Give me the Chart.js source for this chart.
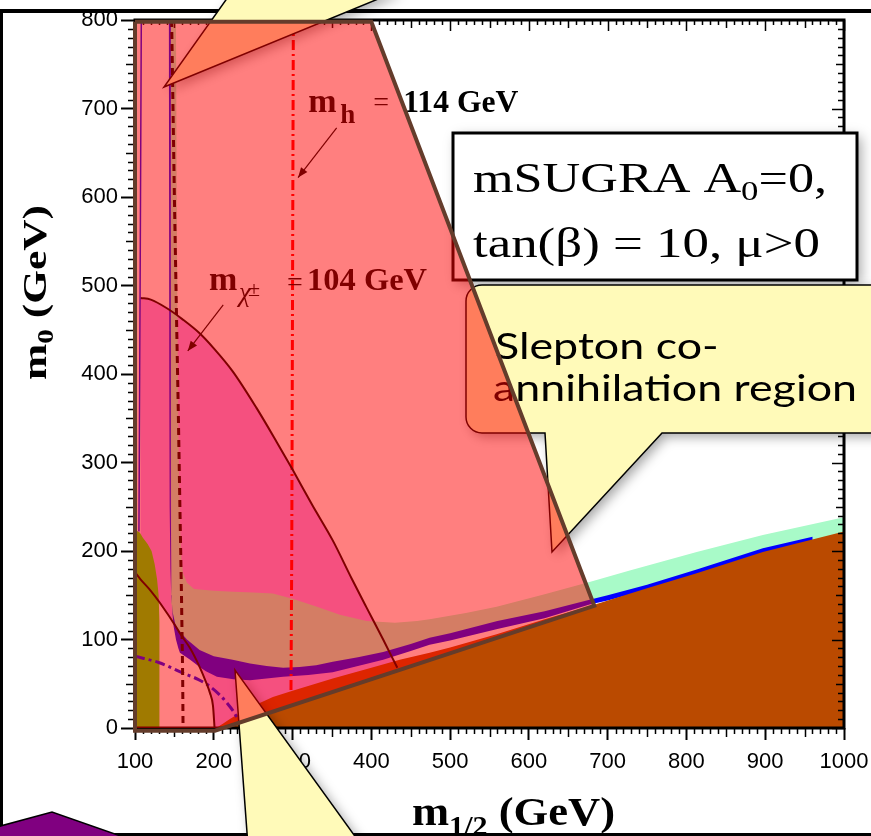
<!DOCTYPE html>
<html>
<head>
<meta charset="utf-8">
<title>mSUGRA m0 – m1/2 plane</title>
<script src="https://cdn.jsdelivr.net/npm/chart.js@4.4.1/dist/chart.umd.min.js"></script>
<style>
  html, body { margin: 0; padding: 0; background: #ffffff; }
  canvas { display: block; }
</style>
</head>
<body>
<canvas id="plane" width="871" height="836"></canvas>
<script>
// Axis tick values (GeV)
const m12Ticks = [100, 200, 300, 400, 500, 600, 700, 800, 900, 1000];
const m0Ticks = [0, 100, 200, 300, 400, 500, 600, 700, 800];

// Region outlines, [m1/2, m0] in GeV
const favouredRegion = [
  [145.5, 800], [152, 800], [153, 600], [154, 450], [155, 350], [156, 280], [157, 240], [158, 210],
  [159, 190], [161, 175], [166, 164], [175, 157], [200, 155], [225, 154], [250, 153], [275, 152],
  [300, 146], [331, 137], [360, 128], [394, 121], [430, 119], [458, 121], [474, 123], [520, 130],
  [559, 137], [620, 151], [677, 165], [728, 178], [813, 199], [897, 218], [1000, 238],
  [1000, 220], [960, 210], [897, 201], [813, 177], [750, 160], [700, 148], [677, 142], [620, 128],
  [560, 116], [500, 103], [474, 98], [450, 91], [415, 81], [383, 75], [351, 69], [320, 65],
  [288, 63], [246, 63], [225, 66], [204, 70], [182, 78], [166, 90], [157, 97], [152, 107],
  [148, 120], [146.5, 140], [146, 200], [145.5, 400]
];
const narrowBand = [
  [143, 800], [143.5, 400], [144, 250], [145, 180], [146, 150], [148, 130], [151, 118], [155, 111],
  [166, 100], [182, 88], [200, 81], [224, 77], [246, 73], [267, 70], [288, 68], [309, 69], [330, 71],
  [351, 75], [383, 80], [415, 86], [450, 95], [474, 102], [500, 107], [560, 121], [620, 132],
  [677, 145], [700, 150], [750, 162], [813, 179], [897, 203], [960, 216],
  [960, 210], [897, 197], [813, 173], [750, 156], [700, 144], [677, 139.5], [620, 124], [560, 112],
  [500, 99], [474, 94], [450, 87], [415, 77], [383, 70], [351, 63], [320, 60], [288, 58], [246, 54],
  [225, 55], [204, 58], [190, 64], [182, 69], [170, 77], [157, 85], [155, 90], [152, 100],
  [149, 115], [147.5, 130], [146.5, 150], [146, 180], [145.5, 250], [145.5, 800]
];
const stauLspRegion = [
  [201, 0], [205, 1], [212, 5], [220, 10], [233, 17], [250, 25], [275, 35], [300, 42], [351, 56],
  [400, 68], [436, 77], [474, 85], [500, 91], [559, 106], [620, 123], [686, 140], [750, 158],
  [813, 175], [897, 199], [1000, 222], [1000, 0]
];
const lavenderRegion = [
  [107, 486], [120, 484], [141, 474], [160, 462], [182, 446], [200, 429], [224, 403], [254, 362],
  [280, 323], [300, 292], [325, 252], [351, 212], [375, 169], [394, 136], [415, 100], [433, 68],
  [440, 0], [201, 0], [199, 25], [195, 40], [190, 52], [182, 69], [170, 90], [157, 107],
  [153, 113], [132, 141], [120, 155], [107, 168]
];
const lowM12Region = [
  [100, 0], [131, 0], [131, 120], [130, 150], [128, 168], [125, 185], [121, 200], [116, 208],
  [110, 215], [106, 221], [102, 223], [100, 221]
];

// Contours
const contourUpper = [
  [107, 486], [120, 484], [141, 474], [160, 462], [182, 446], [200, 429], [224, 403], [254, 362],
  [280, 323], [300, 292], [325, 252], [351, 212], [375, 169], [394, 136], [415, 100], [433, 68]
];
const contourLower = [
  [100, 176], [107, 168], [120, 155], [132, 141], [153, 113], [157, 107], [170, 90], [182, 69],
  [190, 52], [195, 40], [199, 25], [201, 0]
];
const charginoLimit = [
  [146.5, 800], [150, 600], [153, 450], [155, 356], [157, 250], [159, 150], [160.5, 60], [161, 0]
];
const higgsLimit = [[301, 800], [300, 500], [299, 200], [298, 43]];
const blueDashDot = [
  [100, 81], [130, 74], [161, 62], [180, 55], [195, 47], [208, 37], [217, 28], [224, 20], [230, 11]
];
const leftEdgeLine = [[108, 800], [107, 600], [106, 400], [105, 222]];

// Highlighted excluded area
const coverPolygon = [[100, 798], [400, 798], [683, 138], [201.5, -3], [100, -3], [100, 798]];

const pts = arr => arr.map(([x, y]) => ({ x, y }));
const SERIF = '"Liberation Serif", "Times New Roman", serif';
const SANS = 'Lato, "Open Sans", sans-serif';

const datasets = [
  { data: pts(coverPolygon), fill: 'shape', backgroundColor: 'rgba(255,0,0,0.5)',
    borderColor: '#643c2b', borderWidth: 4, borderJoinStyle: 'miter', clip: false },
  { data: pts(leftEdgeLine), borderColor: '#0000ff', borderWidth: 1.5 },
  { data: pts(contourUpper), borderColor: '#000000', borderWidth: 2, cubicInterpolationMode: 'monotone' },
  { data: pts(contourLower), borderColor: '#000000', borderWidth: 2, cubicInterpolationMode: 'monotone' },
  { data: pts(charginoLimit), borderColor: '#000000', borderWidth: 3, borderDash: [7, 5] },
  { data: pts(higgsLimit), borderColor: '#ff0000', borderWidth: 3, borderDash: [10, 4, 2, 4] },
  { data: pts(blueDashDot), borderColor: '#0000ff', borderWidth: 3, borderDash: [10, 4, 3, 4],
    cubicInterpolationMode: 'monotone' },
  { data: pts(stauLspRegion), fill: 'shape', backgroundColor: 'rgb(186,74,0)', borderWidth: 0 },
  { data: pts(narrowBand), fill: 'shape', backgroundColor: '#0000ff', borderWidth: 0 },
  { data: pts(lowM12Region), fill: 'shape', backgroundColor: 'rgb(65,245,0)', borderWidth: 0 },
  { data: pts(favouredRegion), fill: 'shape', backgroundColor: 'rgb(168,250,200)', borderWidth: 0 },
  { data: pts(lavenderRegion), fill: 'shape', backgroundColor: 'rgb(235,160,255)', borderWidth: 0 }
];

// Text helpers: runs of differently styled text, optionally squeezed/stretched to a width
function runsWidth(ctx, runs) {
  let w = 0;
  for (const r of runs) { ctx.font = r.font; w += ctx.measureText(r.t).width; }
  return w;
}
function drawRuns(ctx, runs, x, y, targetW, fixedScale) {
  const w = runsWidth(ctx, runs);
  const s = fixedScale || (targetW ? targetW / w : 1);
  ctx.save();
  ctx.translate(x, y);
  ctx.scale(s, 1);
  let cx = 0;
  for (const r of runs) {
    ctx.font = r.font;
    ctx.fillText(r.t, cx, r.dy || 0);
    cx += ctx.measureText(r.t).width;
  }
  ctx.restore();
  return s;
}
function arrow(ctx, x0, y0, x1, y1) {
  ctx.beginPath(); ctx.moveTo(x0, y0); ctx.lineTo(x1, y1); ctx.stroke();
  const a = Math.atan2(y1 - y0, x1 - x0), L = 10, W = 4;
  ctx.beginPath();
  ctx.moveTo(x1, y1);
  ctx.lineTo(x1 - L * Math.cos(a) + W * Math.sin(a), y1 - L * Math.sin(a) - W * Math.cos(a));
  ctx.lineTo(x1 - L * Math.cos(a) - W * Math.sin(a), y1 - L * Math.sin(a) + W * Math.cos(a));
  ctx.closePath(); ctx.fill();
}

function drawFrame(chart) {
  const { ctx, chartArea: a, scales: { x, y } } = chart;
  ctx.save();
  ctx.strokeStyle = '#000';
  ctx.lineWidth = 1.5;
  ctx.beginPath();
  for (let v = 100; v <= 1000; v += 10) {
    const px = Math.round(x.getPixelForValue(v)) + 0.5;
    const major = v % 100 === 0, mid = v % 50 === 0;
    if (!major) { ctx.moveTo(px, a.bottom); ctx.lineTo(px, a.bottom + (mid ? 9 : 6)); }
    ctx.moveTo(px, a.top); ctx.lineTo(px, a.top + (major ? 11 : (mid ? 8 : 5)));
  }
  for (let v = 0; v <= 800; v += 10) {
    const py = Math.round(y.getPixelForValue(v)) + 0.5;
    const major = v % 100 === 0, mid = v % 50 === 0;
    if (!major) { ctx.moveTo(a.left, py); ctx.lineTo(a.left - (mid ? 9 : 7), py); }
    ctx.moveTo(a.right, py); ctx.lineTo(a.right - (major ? 12 : (mid ? 8 : 6)), py);
  }
  ctx.stroke();
  ctx.lineWidth = 3;
  ctx.strokeRect(a.left, a.top, a.right - a.left, a.bottom - a.top);
  ctx.restore();
}

function drawPlotText(chart) {
  const { ctx, scales: { x, y } } = chart;
  const P = (m, m0) => [x.getPixelForValue(m), y.getPixelForValue(m0)];
  ctx.save();
  ctx.fillStyle = '#000';
  ctx.strokeStyle = '#000';
  ctx.lineWidth = 1.2;

  // light Higgs mass contour label
  let [hx, hy] = P(320, 696);
  ctx.font = 'bold 34px ' + SERIF; ctx.fillText('m', hx, hy);
  ctx.font = 'bold 27px ' + SERIF; ctx.fillText('h', hx + 32, hy + 11);
  ctx.font = '28px ' + SERIF; ctx.fillText('=', hx + 65, hy - 1);
  drawRuns(ctx, [{ t: '114 GeV', font: 'bold 31px ' + SERIF }], hx + 95, hy, 115);
  let [a0x, a0y] = P(356, 678), [a1x, a1y] = P(307, 622);
  arrow(ctx, a0x, a0y, a1x, a1y);

  // chargino mass contour label
  let [cx, cy] = P(194, 495);
  ctx.font = 'bold 34px ' + SERIF; ctx.fillText('m', cx, cy);
  ctx.font = 'italic 27px ' + SERIF; ctx.fillText('χ', cx + 30, cy + 11);
  ctx.font = '22px ' + SERIF; ctx.fillText('±', cx + 39, cy + 6);
  ctx.font = '28px ' + SERIF; ctx.fillText('=', cx + 78, cy + 1);
  drawRuns(ctx, [{ t: '104 GeV', font: 'bold 31px ' + SERIF }], cx + 98, cy, 120);
  [a0x, a0y] = P(212, 478); [a1x, a1y] = P(167, 426);
  arrow(ctx, a0x, a0y, a1x, a1y);

  // axis titles
  drawRuns(ctx, [
    { t: 'm', font: 'bold 40px ' + SERIF },
    { t: '1/2', font: 'bold 27px ' + SERIF, dy: 10 },
    { t: ' (GeV)', font: 'bold 40px ' + SERIF }
  ], 412, 825, 203);
  ctx.save();
  ctx.translate(46, 380);
  ctx.rotate(-Math.PI / 2);
  drawRuns(ctx, [
    { t: 'm', font: 'bold 34px ' + SERIF },
    { t: '0', font: 'bold 23px ' + SERIF, dy: 7 },
    { t: ' (GeV)', font: 'bold 34px ' + SERIF }
  ], 0, 0, 175);
  ctx.restore();
  ctx.restore();
}

function drawSlide(chart) {
  const ctx = chart.ctx;
  ctx.save();
  // slide frame lines
  ctx.fillStyle = '#000';
  ctx.fillRect(0, 9, 871, 4);
  ctx.fillRect(0, 9, 3, 827);
  ctx.fillRect(0, 833, 871, 3);

  // purple shape at the lower left
  ctx.beginPath();
  ctx.moveTo(-5, 827.5); ctx.lineTo(52, 812); ctx.lineTo(132, 840); ctx.lineTo(-5, 840); ctx.closePath();
  ctx.fillStyle = '#800080'; ctx.fill();
  ctx.strokeStyle = '#000'; ctx.lineWidth = 1.5; ctx.stroke();

  const shadow = on => {
    ctx.shadowColor = on ? 'rgba(0,0,0,0.35)' : 'transparent';
    ctx.shadowBlur = on ? 12 : 0; ctx.shadowOffsetX = on ? 4 : 0; ctx.shadowOffsetY = on ? 4 : 0;
  };
  const YELLOW = 'rgb(255,250,185)';

  // parameter box
  shadow(true);
  ctx.fillStyle = '#fff'; ctx.fillRect(453, 133, 404, 147);
  shadow(false);
  ctx.strokeStyle = '#000'; ctx.lineWidth = 3; ctx.strokeRect(453, 133, 404, 147);
  ctx.fillStyle = '#000';
  drawRuns(ctx, [
    { t: 'mSUGRA A', font: '42px ' + SERIF },
    { t: '0', font: '28px ' + SERIF, dy: 8 },
    { t: '=0,', font: '42px ' + SERIF }
  ], 473, 192, 354);
  drawRuns(ctx, [{ t: 'tan(β) = 10, μ>0', font: '42px ' + SERIF }], 473, 257, 347);

  // callout: slepton co-annihilation region
  const r = 16;
  ctx.beginPath();
  ctx.moveTo(466 + r, 285);
  ctx.lineTo(905, 285); ctx.lineTo(905, 433);
  ctx.lineTo(662, 433); ctx.lineTo(552, 552); ctx.lineTo(545, 433);
  ctx.lineTo(466 + r, 433);
  ctx.arcTo(466, 433, 466, 433 - r, r);
  ctx.lineTo(466, 285 + r);
  ctx.arcTo(466, 285, 466 + r, 285, r);
  ctx.closePath();
  shadow(true); ctx.fillStyle = YELLOW; ctx.fill(); shadow(false);
  ctx.strokeStyle = '#000'; ctx.lineWidth = 1.5; ctx.stroke();
  ctx.fillStyle = '#000';
  const s = drawRuns(ctx, [{ t: 'annihilation region', font: '37px ' + SANS }], 493, 401, 364);
  drawRuns(ctx, [{ t: 'Slepton co-', font: '37px ' + SANS }], 495, 359, 0, s);

  // callout pointing into the upper left corner
  ctx.beginPath();
  ctx.moveTo(164, 87); ctx.lineTo(233, -10); ctx.lineTo(400, -10); ctx.closePath();
  shadow(true); ctx.fillStyle = YELLOW; ctx.fill(); shadow(false);
  ctx.beginPath(); ctx.moveTo(233, -10); ctx.lineTo(164, 87); ctx.lineTo(400, -10);
  ctx.strokeStyle = '#000'; ctx.lineWidth = 1.5; ctx.stroke();

  // callout pointing at the low-m0 band
  ctx.beginPath();
  ctx.moveTo(235, 670); ctx.lineTo(248, 846); ctx.lineTo(362, 846); ctx.closePath();
  shadow(true); ctx.fillStyle = YELLOW; ctx.fill(); shadow(false);
  ctx.beginPath(); ctx.moveTo(248, 846); ctx.lineTo(235, 670); ctx.lineTo(362, 846);
  ctx.stroke();
  ctx.restore();
}

const overlayPlugin = {
  id: 'slideLayers',
  beforeDraw(chart) {
    const ctx = chart.ctx;
    ctx.save(); ctx.fillStyle = '#fff'; ctx.fillRect(0, 0, chart.width, chart.height); ctx.restore();
  },
  afterDatasetDraw(chart, args) {
    if (args.index !== 1) return;
    drawFrame(chart);
    drawPlotText(chart);
    drawSlide(chart);
  }
};

const tickFont = { family: '"Liberation Sans", Arial, sans-serif', size: 22 };

new Chart(document.getElementById('plane'), {
  type: 'line',
  data: { datasets },
  options: {
    responsive: false,
    animation: false,
    events: [],
    layout: { padding: { left: 0, right: 27, top: 20, bottom: 0 } },
    plugins: { legend: { display: false }, tooltip: { enabled: false }, title: { display: false } },
    elements: { point: { radius: 0, hoverRadius: 0 }, line: { tension: 0, fill: false } },
    scales: {
      x: {
        type: 'linear', min: 100, max: 1000,
        afterBuildTicks: s => { s.ticks = m12Ticks.map(v => ({ value: v })); },
        afterFit: s => { s.height = 108; s.paddingLeft = 0; s.paddingRight = 0; },
        grid: { drawOnChartArea: false, drawTicks: true, tickLength: 12, tickColor: '#000', tickWidth: 2 },
        border: { display: false },
        ticks: { color: '#000', font: tickFont, padding: 9, maxRotation: 0, autoSkip: false,
                 callback: v => String(v) }
      },
      y: {
        type: 'linear', min: 0, max: 800,
        afterBuildTicks: s => { s.ticks = m0Ticks.map(v => ({ value: v })); },
        afterFit: s => { s.width = 135; s.paddingTop = 0; s.paddingBottom = 0; },
        grid: { drawOnChartArea: false, drawTicks: true, tickLength: 14, tickColor: '#000', tickWidth: 2 },
        border: { display: false },
        ticks: { color: '#000', font: tickFont, padding: 3, autoSkip: false, callback: v => String(v) }
      }
    }
  },
  plugins: [overlayPlugin]
});
</script>
</body>
</html>
